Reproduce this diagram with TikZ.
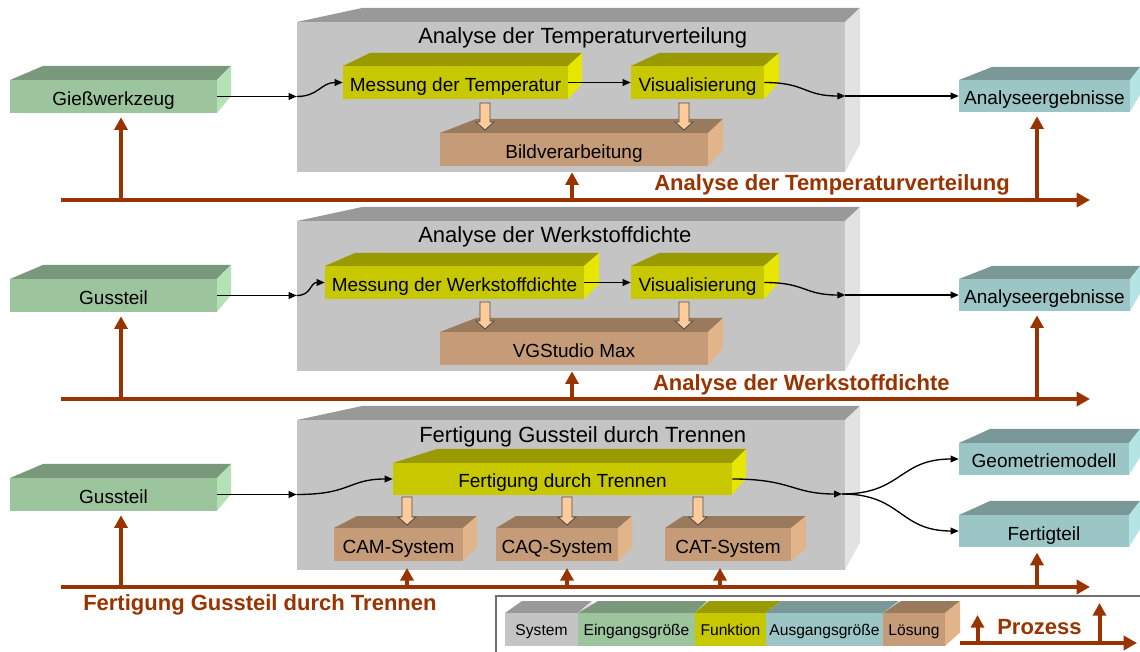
\documentclass[tikz,border=0pt]{standalone}
\usepackage{fontspec}
\setmainfont{Liberation Sans}
\usetikzlibrary{arrows.meta}

% palette: front / top / side faces of the 3D blocks
\definecolor{sysfront}{HTML}{C4C4C4}\definecolor{systop}{HTML}{999999}\definecolor{sysside}{HTML}{E2E2E2}
\definecolor{inpfront}{HTML}{9CC59E}\definecolor{inptop}{HTML}{7A997C}\definecolor{inpside}{HTML}{B4E2B6}
\definecolor{funfront}{HTML}{C8C800}\definecolor{funtop}{HTML}{999900}\definecolor{funside}{HTML}{E6E600}
\definecolor{outfront}{HTML}{9CC5C5}\definecolor{outtop}{HTML}{7A9898}\definecolor{outside}{HTML}{B4E4E4}
\definecolor{solfront}{HTML}{C69C78}\definecolor{soltop}{HTML}{9A7A5C}\definecolor{solside}{HTML}{E2B48A}
\definecolor{procbrown}{HTML}{993300}
\definecolor{peach}{HTML}{FFCC99}
\definecolor{framegray}{HTML}{707070}

\tikzset{
  cubeface/.style={inner sep=0pt, text=black, font=\fontsize{14.25pt}{16pt}\selectfont,
    text height=13.5pt, text depth=0pt},
  legendface/.style={font=\fontsize{11.7pt}{13pt}\selectfont, text height=8.25pt},
  boxtitle/.style={anchor=base west, inner sep=0pt, font=\fontsize{16.5pt}{19pt}\selectfont},
  proclabel/.style={inner sep=0pt, text=procbrown, font=\fontsize{16.5pt}{19pt}\selectfont\bfseries},
  conn/.style={draw=black, line width=1pt, -{Triangle[length=6pt,width=5pt]}},
  proc/.style={draw=procbrown, line width=3pt, -{Triangle[length=10pt,width=10.5pt]}},
  procup/.style={draw=procbrown, line width=3pt, -{Triangle[length=9.5pt,width=9.75pt]}},
  hollow/.style={fill=peach, draw=black!70, line width=0.6pt},
  legendframe/.style={draw=framegray, line width=1.1pt},
}

% 3D block: palette, x1, y1, x2, y2 (front face), back-left shift, back-right shift, depth, name
\newcommand\pcube[9]{\def\cbpal{#1}\def\cbxa{#2}\def\cbya{#3}\def\cbxb{#4}\def\cbyb{#5}%
  \def\cba{#6}\def\cbc{#7}\def\cbb{#8}\def\cbname{#9}\pcubetext}
\newcommand\pcubetext[2][]{%
  \pgfmathsetmacro\cbk{(\cbxb+\cbc-\cbxa-\cba)/(\cbxb-\cbxa)}%
  \pgfmathsetmacro\cbyback{\cbya-\cbb+\cbk*(\cbyb-\cbya)}%
  \pgfmathsetmacro\cbw{(\cbxb-\cbxa)*0.75}%
  \pgfmathsetmacro\cbh{(\cbyb-\cbya)*0.75}%
  \fill[fill=\cbpal top] (\cbxa,\cbya) -- ({\cbxa+\cba},{\cbya-\cbb}) -- ({\cbxb+\cbc},{\cbya-\cbb}) -- (\cbxb,\cbya) -- cycle;
  \fill[fill=\cbpal side] (\cbxb,\cbya) -- ({\cbxb+\cbc},{\cbya-\cbb}) -- ({\cbxb+\cbc},\cbyback) -- (\cbxb,\cbyb) -- cycle;
  \node[cubeface, fill=\cbpal front, minimum width=\cbw pt, minimum height=\cbh pt, #1]
    (\cbname) at ({(\cbxa+\cbxb)/2},{(\cbya+\cbyb)/2}) {#2};
}

% hollow downward arrow: x, top of shaft, tip
\newcommand\hollowarrow[3]{%
  \draw[hollow] ({#1-5},#2) -- ({#1+5},#2) -- ({#1+5},{#3-8}) -- ({#1+9},{#3-8}) -- (#1,#3)
    -- ({#1-9},{#3-8}) -- ({#1-5},{#3-8}) -- cycle;}

\begin{document}
\begin{tikzpicture}[x=0.75pt, y=-0.75pt]
\useasboundingbox (0,0) rectangle (1140,652);
\fill[white] (0,0) rectangle (1140,652);

% ---------- row 1: temperature distribution ----------
\pcube{sys}{297}{22}{845}{172}{65}{15}{14}{s1}{}
\node[boxtitle] (t1) at (418,44) {Analyse der Temperaturverteilung};
\pcube{inp}{10}{80}{217}{113}{33}{14}{14}{g1}{Gießwerkzeug}
\pcube{fun}{343}{66}{568}{99}{27}{14}{13}{m1}{Messung der Temperatur}
\pcube{fun}{631}{66}{764}{99}{28}{15}{13}{v1}{Visualisierung}
\pcube{sol}{440}{133}{708}{166}{36}{15}{14}{b1}{Bildverarbeitung}
\pcube{out}{959}{80}{1130}{112}{33}{10}{13}{a1}{Analyseergebnisse}

\draw[conn] (g1.east) -- (s1.west |- g1.east);
\draw[conn] (s1.west |- g1.east) .. controls +(22,0) and +(-22,0) .. (m1.west);
\draw[conn] (m1.east) -- (v1.west);
\draw[conn] (v1.east) .. controls +(42,0) and +(-42,0) .. (s1.east |- a1.west);
\draw[conn] (s1.east |- a1.west) -- (a1.west);
\hollowarrow{485}{103}{130}
\hollowarrow{684}{103}{130}

\coordinate (p1s) at (61,200);
\coordinate (p1e) at (1090,200);
\coordinate (xa) at (121,0);
\coordinate (xb) at (572,0);
\coordinate (xc) at (1037,0);
\draw[proc] (p1s) -- (p1e);
\draw[procup, shorten >=3pt] (xa |- p1s) -- (xa |- g1.south);
\draw[procup] (xb |- p1s) -- (xb |- s1.south);
\draw[procup, shorten >=3pt] (xc |- p1s) -- (xc |- a1.south);
\node[proclabel, anchor=base east] (l1) at (1010,191) {Analyse der Temperaturverteilung};

% ---------- row 2: material density ----------
\pcube{sys}{297}{221}{845}{371}{65}{15}{14}{s2}{}
\node[boxtitle] (t2) at (418,243) {Analyse der Werkstoffdichte};
\pcube{inp}{10}{279}{217}{312}{33}{14}{14}{g2}{Gussteil}
\pcube{fun}{325}{266}{584}{299}{30}{15}{13}{m2}{Messung der Werkstoffdichte}
\pcube{fun}{631}{266}{764}{299}{28}{15}{13}{v2}{Visualisierung}
\pcube{sol}{440}{332}{708}{365}{36}{15}{14}{b2}{VGStudio Max}
\pcube{out}{959}{279}{1130}{311}{33}{10}{13}{a2}{Analyseergebnisse}

\draw[conn] (g2.east) -- (s2.west |- g2.east);
\draw[conn] (s2.west |- g2.east) .. controls +(15,0) and +(-15,0) .. (m2.west);
\draw[conn] (m2.east) -- (v2.west);
\draw[conn] (v2.east) .. controls +(42,0) and +(-42,0) .. (s2.east |- a2.west);
\draw[conn] (s2.east |- a2.west) -- (a2.west);
\hollowarrow{485}{302}{329}
\hollowarrow{684}{302}{329}

\coordinate (p2s) at (61,399);
\coordinate (p2e) at (1090,399);
\draw[proc] (p2s) -- (p2e);
\draw[procup, shorten >=3pt] (xa |- p2s) -- (xa |- g2.south);
\draw[procup] (xb |- p2s) -- (xb |- s2.south);
\draw[procup, shorten >=3pt] (xc |- p2s) -- (xc |- a2.south);
\node[proclabel, anchor=base east] (l2) at (950,391) {Analyse der Werkstoffdichte};

% ---------- row 3: machining of the casting ----------
\pcube{sys}{297}{420}{845}{570}{65}{15}{14}{s3}{}
\node[boxtitle] (t3) at (419,443) {Fertigung Gussteil durch Trennen};
\pcube{inp}{10}{478}{217}{511}{33}{14}{14}{g3}{Gussteil}
\pcube{fun}{393}{463}{732}{495}{44}{14}{14}{f3}{Fertigung durch Trennen}
\pcube{sol}{334}{528}{463}{561}{23}{14}{12}{cam}{CAM-System}
\pcube{sol}{496}{528}{618}{561}{20}{14}{12}{caq}{CAQ-System}
\pcube{sol}{665}{528}{791}{561}{18}{15}{12}{cat}{CAT-System}
\pcube{out}{959}{443}{1129}{475}{31}{11}{14}{geo}{Geometriemodell}
\pcube{out}{959}{515}{1129}{547}{31}{11}{14}{fert}{Fertigteil}

\coordinate (q3) at (842,494);
\draw[conn] (g3.east) -- (s3.west |- g3.east);
\draw[conn] (s3.west |- g3.east) .. controls +(55,0) and +(-45,0) .. (f3.west);
\draw[conn] (f3.east) .. controls +(60,0) and +(-50,0) .. (q3);
\draw[conn] (q3) .. controls +(60,0) and +(-60,0) .. (geo.west);
\draw[conn] (q3) .. controls +(60,0) and +(-60,0) .. (fert.west);
\hollowarrow{407}{497}{525}
\hollowarrow{567}{497}{525}
\hollowarrow{698}{497}{525}

\coordinate (p3s) at (61,587);
\coordinate (p3e) at (1090,587);
\coordinate (xcam) at (407,0);
\coordinate (xcaq) at (567,0);
\coordinate (xcat) at (720,0);
\draw[proc] (p3s) -- (p3e);
\draw[procup, shorten >=3pt] (xa |- p3s) -- (xa |- g3.south);
\draw[procup, shorten >=5pt] (xcam |- p3s) -- (xcam |- cam.south);
\draw[procup, shorten >=5pt] (xcaq |- p3s) -- (xcaq |- caq.south);
\draw[procup, shorten >=5pt] (xcat |- p3s) -- (xcat |- cat.south);
\draw[procup, shorten >=4pt] (xc |- p3s) -- (xc |- fert.south);
\node[proclabel, anchor=base west] (l3) at (83,610) {Fertigung Gussteil durch Trennen};

% ---------- legend ----------
\draw[legendframe] (496,596) rectangle (1160,670);
\pcube{sys}{505}{613}{578}{646}{17}{14}{12}{lsys}[legendface]{System}
\pcube{inp}{578}{613}{695}{646}{20}{12}{12}{linp}[legendface]{Eingangsgröße}
\pcube{fun}{695}{613}{766}{646}{14}{15}{12}{lfun}[legendface]{Funktion}
\pcube{out}{766}{613}{883}{646}{15}{16}{12}{lout}[legendface]{Ausgangsgröße}
\pcube{sol}{883}{613}{945}{646}{18}{15}{12}{lsol}[legendface]{Lösung}
\coordinate (lps) at (960,643);
\coordinate (lpe) at (1137,643);
\coordinate (lu1) at (977.5,615);
\coordinate (lu2) at (1099.5,603);
\draw[proc] (lps) -- (lpe);
\draw[procup] (lu1 |- lps) -- (lu1);
\draw[procup] (lu2 |- lps) -- (lu2);
\node[proclabel, anchor=base west] (lp) at (997,634) {Prozess};
\end{tikzpicture}
\end{document}
